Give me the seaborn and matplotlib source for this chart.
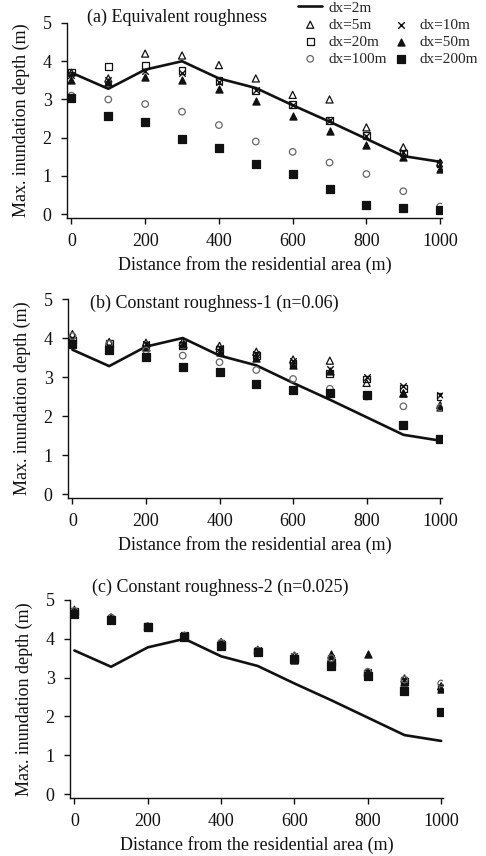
import matplotlib
matplotlib.use("Agg")
import matplotlib.pyplot as plt
from matplotlib.lines import Line2D
import seaborn as sns

# distances along the transect (m)
DIST = [0, 100, 200, 300, 400, 500, 600, 700, 800, 900, 1000]

# dx=2m reference run (same line in all three panels)
LINE_DX2 = [3.70, 3.28, 3.78, 4.00, 3.55, 3.30, 2.85, 2.42, 1.97, 1.52, 1.37]

# (a) equivalent roughness
A_DX5 = [3.70, 3.55, 4.20, 4.15, 3.90, 3.55, 3.12, 3.00, 2.27, 1.75, 1.35]
A_DX10 = [3.65, 3.50, 3.75, 3.70, 3.45, 3.25, 2.85, 2.45, 2.05, 1.62, 1.30]
A_DX20 = [3.72, 3.87, 3.88, 3.75, 3.50, 3.22, 2.87, 2.45, 2.05, 1.60, 1.32]
A_DX50 = [3.50, 3.45, 3.60, 3.52, 3.28, 2.97, 2.57, 2.17, 1.82, 1.50, 1.18]
A_DX100 = [3.10, 3.00, 2.88, 2.68, 2.33, 1.90, 1.63, 1.35, 1.05, 0.60, 0.20]
A_DX200 = [3.05, 2.58, 2.42, 1.97, 1.72, 1.30, 1.05, 0.65, 0.23, 0.17, 0.10]

# (b) constant roughness-1 (n=0.06)
B_DX5 = [4.10, 3.90, 3.88, 3.90, 3.80, 3.65, 3.45, 3.42, 2.85, 2.58, 2.28]
B_DX10 = [4.00, 3.80, 3.85, 3.85, 3.75, 3.60, 3.40, 3.20, 3.00, 2.78, 2.55]
B_DX20 = [3.95, 3.85, 3.82, 3.80, 3.70, 3.55, 3.35, 3.10, 2.95, 2.70, 2.50]
B_DX50 = [3.90, 3.75, 3.78, 3.85, 3.65, 3.50, 3.30, 3.15, 2.55, 2.58, 2.22]
B_DX100 = [4.05, 3.85, 3.68, 3.55, 3.38, 3.18, 2.95, 2.70, 2.50, 2.25, 2.22]
B_DX200 = [3.85, 3.70, 3.52, 3.27, 3.12, 2.83, 2.68, 2.60, 2.55, 1.77, 1.40]

# (c) constant roughness-2 (n=0.025)
C_DX5 = [4.75, 4.55, 4.32, 4.08, 3.92, 3.72, 3.57, 3.50, 3.15, 2.98, 2.78]
C_DX10 = [4.72, 4.52, 4.30, 4.06, 3.90, 3.70, 3.55, 3.50, 3.15, 2.95, 2.75]
C_DX20 = [4.70, 4.50, 4.32, 4.08, 3.85, 3.68, 3.50, 3.38, 3.10, 2.90, 2.72]
C_DX50 = [4.68, 4.52, 4.30, 4.05, 3.82, 3.65, 3.45, 3.60, 3.62, 2.90, 2.72]
C_DX100 = [4.72, 4.55, 4.32, 4.08, 3.90, 3.70, 3.55, 3.50, 3.15, 2.95, 2.85]
C_DX200 = [4.65, 4.48, 4.30, 4.05, 3.82, 3.65, 3.48, 3.30, 3.05, 2.65, 2.12]

TITLES = ["(a) Equivalent roughness",
          "(b) Constant roughness-1 (n=0.06)",
          "(c) Constant roughness-2 (n=0.025)"]

PANELS = [
    [A_DX5, A_DX10, A_DX20, A_DX50, A_DX100, A_DX200],
    [B_DX5, B_DX10, B_DX20, B_DX50, B_DX100, B_DX200],
    [C_DX5, C_DX10, C_DX20, C_DX50, C_DX100, C_DX200],
]

# label, marker, face, edge, size
STYLES = [
    ("dx=5m", "^", "none", "#111111", 26),
    ("dx=10m", "x", "#111111", "#111111", 22),
    ("dx=20m", "s", "none", "#111111", 24),
    ("dx=50m", "^", "#111111", "#111111", 26),
    ("dx=100m", "o", "none", "#666666", 22),
    ("dx=200m", "s", "#111111", "#111111", 28),
]

sns.set_style("ticks")
plt.rcParams["font.family"] = ["Liberation Serif", "DejaVu Serif"]

W, H = 486, 856
fig = plt.figure(figsize=(W / 100, H / 100), dpi=100)

# axes boxes in pixels: left, top, right, bottom
boxes = [(67, 23, 442, 218), (68, 299, 442, 498), (70, 600, 443, 798)]
title_pos = [(87, 17), (90, 303), (92, 587)]

axes = []
for i, (l, t, r, b) in enumerate(boxes):
    ax = fig.add_axes([l / W, 1 - b / H, (r - l) / W, (b - t) / H])
    axes.append(ax)

    sns.lineplot(x=DIST, y=LINE_DX2, color="#111111", lw=1.9, ax=ax,
                 label="dx=2m", legend=False, zorder=3)
    for vals, (lab, m, fc, ec, s) in zip(PANELS[i], STYLES):
        if m == "x":
            sns.scatterplot(x=DIST, y=vals, marker=m, s=s, color=ec,
                            linewidth=1.0, ax=ax, label=lab, legend=False, zorder=4)
        else:
            sns.scatterplot(x=DIST, y=vals, marker=m, s=s, facecolor=fc,
                            edgecolor=ec, linewidth=0.9, ax=ax, label=lab,
                            legend=False, zorder=4)

    ax.set_xlim(-12, 1005)
    ax.set_ylim(-0.1, 5)
    ax.set_xticks([0, 200, 400, 600, 800, 1000])
    ax.set_yticks([0, 1, 2, 3, 4, 5])
    ax.tick_params(direction="out", length=4, width=1, labelsize=13, pad=7,
                   colors="#111111")
    for side in ["top", "right"]:
        ax.spines[side].set_visible(False)
    for side in ["left", "bottom"]:
        ax.spines[side].set_linewidth(1.0)
        ax.spines[side].set_color("#111111")
    ax.set_xlabel("Distance from the residential area (m)", fontsize=13,
                  color="#111111", labelpad=4)
    ax.set_ylabel("Max. inundation depth (m)", fontsize=13, color="#111111",
                  labelpad=9)
    tx, ty = title_pos[i]
    fig.text(tx / W, 1 - ty / H, TITLES[i], fontsize=13, va="center",
             ha="left", color="#111111")

# legend: dx=2m alone on the first row, then two columns
handles, labels = axes[0].get_legend_handles_labels()
hmap = dict(zip(labels, handles))
blank = Line2D([], [], color="none")
order = ["dx=2m", "dx=5m", "dx=20m", "dx=100m", None, "dx=10m", "dx=50m", "dx=200m"]
leg_h = [hmap[k] if k else blank for k in order]
leg_l = [k if k else "" for k in order]
fig.legend(leg_h, leg_l, loc="upper left", bbox_to_anchor=(298 / W, 1 - 1 / H),
           ncol=2, frameon=False, fontsize=11, handlelength=1.6,
           handletextpad=0.4, columnspacing=0.1, labelspacing=0.22,
           borderpad=0, borderaxespad=0)

plt.savefig("out.png", dpi=100)
